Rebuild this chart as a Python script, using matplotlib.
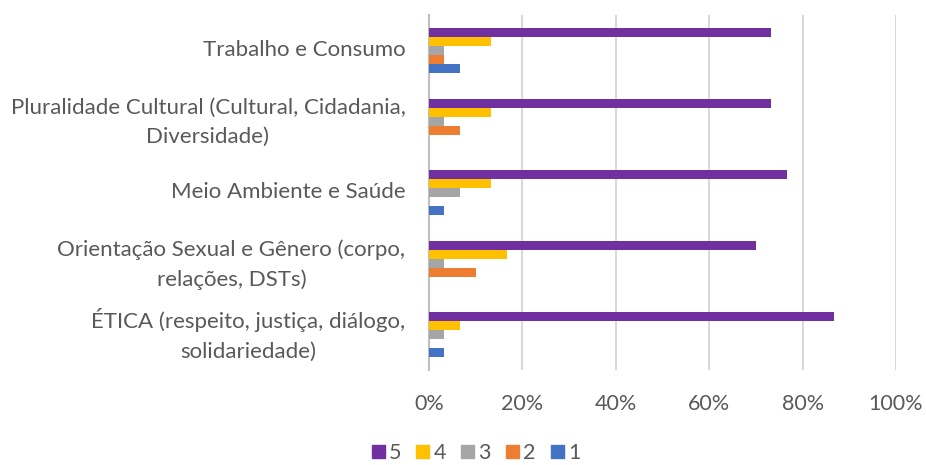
import numpy as np
from matplotlib import pyplot as plt
from matplotlib.patches import Patch
from matplotlib.transforms import ScaledTranslation

plt.rcParams['font.family'] = ['Lato', 'DejaVu Sans']

CATEGORIES = [
    'ÉTICA (respeito, justiça, diálogo,\nsolidariedade)',
    'Orientação Sexual e Gênero (corpo,\nrelações, DSTs)',
    'Meio Ambiente e Saúde',
    'Pluralidade Cultural (Cultural, Cidadania,\nDiversidade)',
    'Trabalho e Consumo',
]
SERIES = ['1', '2', '3', '4', '5']
COLORS = ['#4472c4', '#ed7d31', '#a5a5a5', '#ffc000', '#7030a0']

# percent of answers per score, categories listed bottom to top
SCORE_1 = [3.3, 0.0, 3.3, 0.0, 6.7]
SCORE_2 = [0.0, 10.0, 0.0, 6.7, 3.3]
SCORE_3 = [3.3, 3.3, 6.7, 3.3, 3.3]
SCORE_4 = [6.7, 16.7, 13.3, 13.3, 13.3]
SCORE_5 = [86.7, 70.0, 76.7, 73.3, 73.3]
VALUES = [SCORE_1, SCORE_2, SCORE_3, SCORE_4, SCORE_5]

TEXT = '#595959'
FS = 15.5

fig = plt.figure(figsize=(9.26, 4.65), dpi=100)
ax = fig.add_axes([429 / 926, 1 - 370 / 465, (896 - 429) / 926, 355 / 465])

y = np.arange(len(CATEGORIES))
h = 0.124
for k, (vals, color) in enumerate(zip(VALUES, COLORS)):
    ax.barh(y + (k - 2) * h, vals, height=h, color=color, zorder=3)

ax.set_xlim(0, 100)
ax.set_ylim(-0.5, len(CATEGORIES) - 0.5)
ax.set_xticks(np.arange(0, 101, 20))
ax.set_xticklabels([f'{t}%' for t in range(0, 101, 20)])
ax.set_yticks(y)
ax.set_yticklabels(CATEGORIES, multialignment='center', linespacing=1.6,
                   fontsize=16)
ax.tick_params(axis='both', length=0, colors=TEXT)
ax.tick_params(axis='x', pad=17, labelsize=FS)
ax.tick_params(axis='y', pad=17)

# nudge category labels up a little, two-line ones a bit more
for lbl in ax.get_yticklabels():
    dy = 6 if '\n' in lbl.get_text() else 3
    lbl.set_transform(lbl.get_transform() + ScaledTranslation(0, dy / 100, fig.dpi_scale_trans))

ax.grid(axis='x', color='#d9d9d9', linewidth=1.5, zorder=0)
for side in ['top', 'right', 'bottom']:
    ax.spines[side].set_visible(False)
ax.spines['left'].set_color('#bfbfbf')
ax.spines['left'].set_linewidth(1.5)

handles = [Patch(color=c, label=s) for s, c in zip(SERIES, COLORS)][::-1]
fig.legend(handles=handles, loc='center', bbox_to_anchor=(476 / 926, 1 - 453 / 465),
           ncol=5, frameon=False, fontsize=FS, labelcolor=TEXT,
           handlelength=0.6, handleheight=0.6, handletextpad=0.2, columnspacing=0.7,
           borderaxespad=0, borderpad=0)

fig.savefig('out.png', dpi=100)
